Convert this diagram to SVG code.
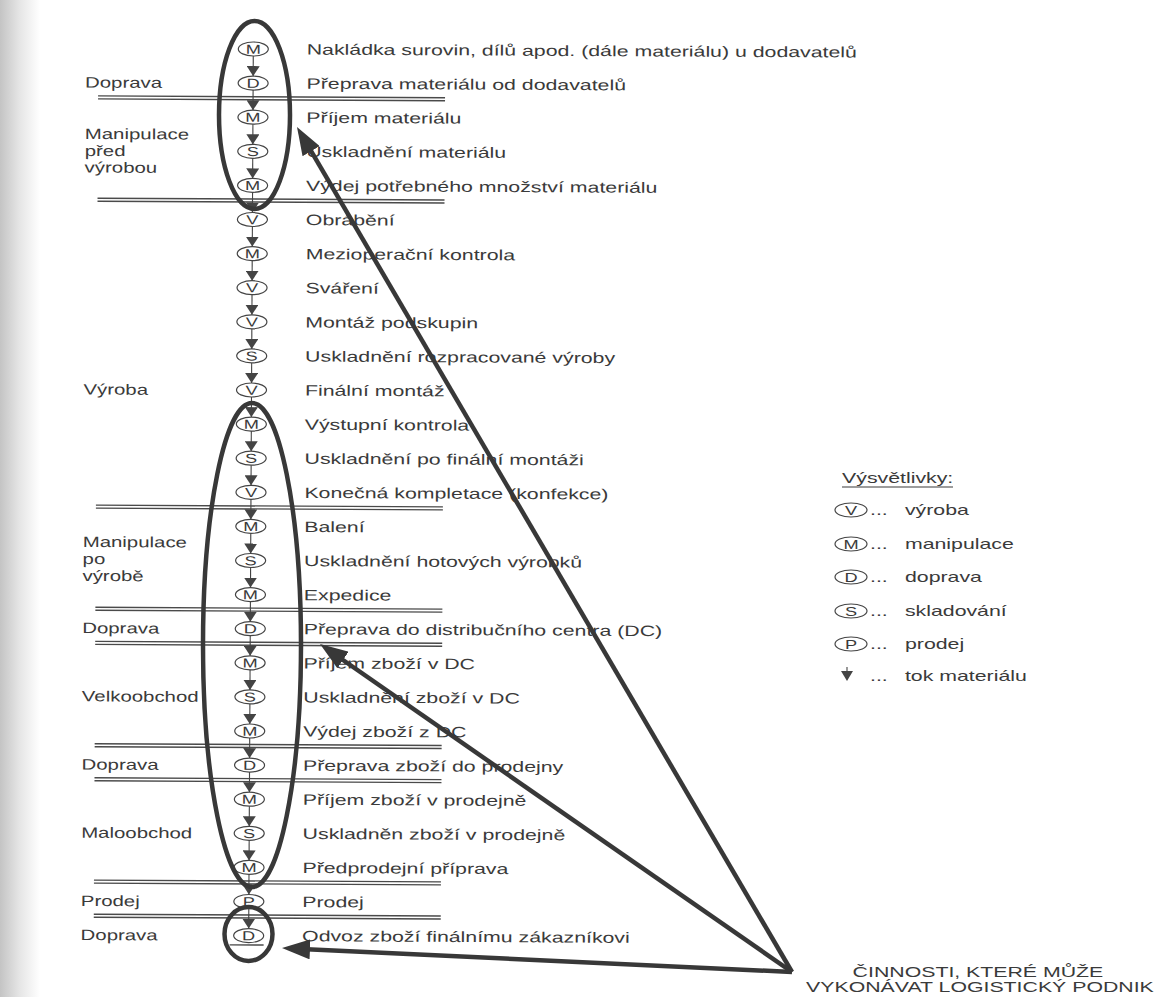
<svg xmlns="http://www.w3.org/2000/svg" width="1162" height="997" viewBox="0 0 1162 997">
  <defs>
    <linearGradient id="edge" x1="0" y1="0" x2="1" y2="0">
      <stop offset="0" stop-color="#c4c4c4"/>
      <stop offset="0.5" stop-color="#e6e6e6"/>
      <stop offset="1" stop-color="#ffffff"/>
    </linearGradient>
    <!-- small flow arrowhead between activity symbols -->
    <marker id="flow" viewBox="0 0 10 13" refX="10" refY="6.5" markerWidth="10" markerHeight="13" markerUnits="userSpaceOnUse" orient="auto">
      <path d="M0,0 L10,6.5 L0,13 z" fill="#444"/>
    </marker>
    <!-- large pointer arrowhead -->
    <marker id="pointer" viewBox="0 0 28 20" refX="14" refY="10" markerWidth="28" markerHeight="20" markerUnits="userSpaceOnUse" orient="auto">
      <path d="M0,0 L28,10 L0,20 z" fill="#383838"/>
    </marker>
  </defs>
  <style>
    /* the printed sheet uses a wide sans: Arial metrics stretched horizontally */
    .t { font-family: "Liberation Sans", Arial, sans-serif; font-size: 15px; fill: #3a3a3a; transform: scale(1.42, 1); }
    .lab { transform: scale(1.36, 1); }
    .sl { font-size: 13px; text-anchor: middle; transform: scale(1.4, 1); }
    .mid { text-anchor: middle; }
    .sym { fill: none; stroke: #444; stroke-width: 1.2; }
    .sep { fill: none; stroke: #4a4a4a; stroke-width: 1.4; }
    .flow { stroke: #444; stroke-width: 1.1; marker-end: url(#flow); }
    .ring { fill: none; stroke: #383838; stroke-width: 4.5; }
    .ptr { fill: none; stroke: #383838; stroke-width: 4.5; marker-end: url(#pointer); }
  </style>

  <rect width="1162" height="997" fill="#ffffff"/>
  <rect width="40" height="997" fill="url(#edge)"/>

  <!-- process chain, slightly rotated like the printed page -->
  <g id="chain" transform="rotate(0.3 251 490)">
    <!-- stage separators (double rules) -->
    <g id="separators">
      <path class="sep" d="M96 96.7H443M96 99.7H443"/>
      <path class="sep" d="M96 199H443M96 202H443"/>
      <path class="sep" d="M96 505.9H443M96 508.9H443"/>
      <path class="sep" d="M96 608.1H443M96 611.1H443"/>
      <path class="sep" d="M96 642.2H443M96 645.2H443"/>
      <path class="sep" d="M96 744.5H443M96 747.5H443"/>
      <path class="sep" d="M96 778.6H443M96 781.6H443"/>
      <path class="sep" d="M96 880.9H443M96 883.9H443"/>
      <path class="sep" d="M96 915H443M96 918H443"/>
    </g>

    <!-- stage names -->
    <g id="stages">
      <text class="t lab" x="61" y="88.4">Doprava</text>
      <text class="t lab" x="61" y="139.8">Manipulace</text>
      <text class="t lab" x="61" y="156.8">před</text>
      <text class="t lab" x="61" y="173.3">výrobou</text>
      <text class="t lab" x="61" y="395.3">Výroba</text>
      <text class="t lab" x="61" y="547.8">Manipulace</text>
      <text class="t lab" x="61" y="564.8">po</text>
      <text class="t lab" x="61" y="581.8">výrobě</text>
      <text class="t lab" x="61" y="634">Doprava</text>
      <text class="t lab" x="61" y="702.2">Velkoobchod</text>
      <text class="t lab" x="61" y="770.4">Doprava</text>
      <text class="t lab" x="61" y="838.6">Maloobchod</text>
      <text class="t lab" x="61" y="906.8">Prodej</text>
      <text class="t lab" x="61" y="940.9">Doprava</text>
    </g>

    <!-- material flow -->
    <g id="connectors">
      <line class="flow" x1="251" y1="56" x2="251" y2="76.1"/>
      <line class="flow" x1="251" y1="90.1" x2="251" y2="110.2"/>
      <line class="flow" x1="251" y1="124.2" x2="251" y2="144.3"/>
      <line class="flow" x1="251" y1="158.3" x2="251" y2="178.4"/>
      <line class="flow" x1="251" y1="192.4" x2="251" y2="212.5"/>
      <line class="flow" x1="251" y1="226.5" x2="251" y2="246.6"/>
      <line class="flow" x1="251" y1="260.6" x2="251" y2="280.7"/>
      <line class="flow" x1="251" y1="294.7" x2="251" y2="314.8"/>
      <line class="flow" x1="251" y1="328.8" x2="251" y2="348.9"/>
      <line class="flow" x1="251" y1="362.9" x2="251" y2="383"/>
      <line class="flow" x1="251" y1="397" x2="251" y2="417.1"/>
      <line class="flow" x1="251" y1="431.1" x2="251" y2="451.2"/>
      <line class="flow" x1="251" y1="465.2" x2="251" y2="485.3"/>
      <line class="flow" x1="251" y1="499.3" x2="251" y2="519.4"/>
      <line class="flow" x1="251" y1="533.4" x2="251" y2="553.5"/>
      <line class="flow" x1="251" y1="567.5" x2="251" y2="587.6"/>
      <line class="flow" x1="251" y1="601.6" x2="251" y2="621.7"/>
      <line class="flow" x1="251" y1="635.7" x2="251" y2="655.8"/>
      <line class="flow" x1="251" y1="669.8" x2="251" y2="689.9"/>
      <line class="flow" x1="251" y1="703.9" x2="251" y2="724"/>
      <line class="flow" x1="251" y1="738" x2="251" y2="758.1"/>
      <line class="flow" x1="251" y1="772.1" x2="251" y2="792.2"/>
      <line class="flow" x1="251" y1="806.2" x2="251" y2="826.3"/>
      <line class="flow" x1="251" y1="840.3" x2="251" y2="860.4"/>
      <line class="flow" x1="251" y1="874.4" x2="251" y2="894.5"/>
      <line class="flow" x1="251" y1="908.5" x2="251" y2="928.6"/>
    </g>

    <!-- activities -->
    <g id="n01"><ellipse class="sym" cx="251" cy="49" rx="15" ry="7"/><text class="t sl" x="179.3" y="53.7">M</text><text class="t" x="214.4" y="54.3">Nakládka surovin, dílů apod. (dále materiálu) u dodavatelů</text></g>
    <g id="n02"><ellipse class="sym" cx="251" cy="83.1" rx="15" ry="7"/><text class="t sl" x="179.3" y="87.8">D</text><text class="t" x="214.4" y="88.4">Přeprava materiálu od dodavatelů</text></g>
    <g id="n03"><ellipse class="sym" cx="251" cy="117.2" rx="15" ry="7"/><text class="t sl" x="179.3" y="121.9">M</text><text class="t" x="214.4" y="122.5">Příjem materiálu</text></g>
    <g id="n04"><ellipse class="sym" cx="251" cy="151.3" rx="15" ry="7"/><text class="t sl" x="179.3" y="156">S</text><text class="t" x="214.4" y="156.6">Uskladnění materiálu</text></g>
    <g id="n05"><ellipse class="sym" cx="251" cy="185.4" rx="15" ry="7"/><text class="t sl" x="179.3" y="190.1">M</text><text class="t" x="214.4" y="190.7">Výdej potřebného množství materiálu</text></g>
    <g id="n06"><ellipse class="sym" cx="251" cy="219.5" rx="15" ry="7"/><text class="t sl" x="179.3" y="224.2">V</text><text class="t" x="214.4" y="224.8">Obrábění</text></g>
    <g id="n07"><ellipse class="sym" cx="251" cy="253.6" rx="15" ry="7"/><text class="t sl" x="179.3" y="258.3">M</text><text class="t" x="214.4" y="258.9">Mezioperační kontrola</text></g>
    <g id="n08"><ellipse class="sym" cx="251" cy="287.7" rx="15" ry="7"/><text class="t sl" x="179.3" y="292.4">V</text><text class="t" x="214.4" y="293">Sváření</text></g>
    <g id="n09"><ellipse class="sym" cx="251" cy="321.8" rx="15" ry="7"/><text class="t sl" x="179.3" y="326.5">V</text><text class="t" x="214.4" y="327.1">Montáž podskupin</text></g>
    <g id="n10"><ellipse class="sym" cx="251" cy="355.9" rx="15" ry="7"/><text class="t sl" x="179.3" y="360.6">S</text><text class="t" x="214.4" y="361.2">Uskladnění rozpracované výroby</text></g>
    <g id="n11"><ellipse class="sym" cx="251" cy="390" rx="15" ry="7"/><text class="t sl" x="179.3" y="394.7">V</text><text class="t" x="214.4" y="395.3">Finální montáž</text></g>
    <g id="n12"><ellipse class="sym" cx="251" cy="424.1" rx="15" ry="7"/><text class="t sl" x="179.3" y="428.8">M</text><text class="t" x="214.4" y="429.4">Výstupní kontrola</text></g>
    <g id="n13"><ellipse class="sym" cx="251" cy="458.2" rx="15" ry="7"/><text class="t sl" x="179.3" y="462.9">S</text><text class="t" x="214.4" y="463.5">Uskladnění po finální montáži</text></g>
    <g id="n14"><ellipse class="sym" cx="251" cy="492.3" rx="15" ry="7"/><text class="t sl" x="179.3" y="497">V</text><text class="t" x="214.4" y="497.6">Konečná kompletace (konfekce)</text></g>
    <g id="n15"><ellipse class="sym" cx="251" cy="526.4" rx="15" ry="7"/><text class="t sl" x="179.3" y="531.1">M</text><text class="t" x="214.4" y="531.7">Balení</text></g>
    <g id="n16"><ellipse class="sym" cx="251" cy="560.5" rx="15" ry="7"/><text class="t sl" x="179.3" y="565.2">S</text><text class="t" x="214.4" y="565.8">Uskladnění hotových výrobků</text></g>
    <g id="n17"><ellipse class="sym" cx="251" cy="594.6" rx="15" ry="7"/><text class="t sl" x="179.3" y="599.3">M</text><text class="t" x="214.4" y="599.9">Expedice</text></g>
    <g id="n18"><ellipse class="sym" cx="251" cy="628.7" rx="15" ry="7"/><text class="t sl" x="179.3" y="633.4">D</text><text class="t" x="214.4" y="634">Přeprava do distribučního centra (DC)</text></g>
    <g id="n19"><ellipse class="sym" cx="251" cy="662.8" rx="15" ry="7"/><text class="t sl" x="179.3" y="667.5">M</text><text class="t" x="214.4" y="668.1">Příjem zboží v DC</text></g>
    <g id="n20"><ellipse class="sym" cx="251" cy="696.9" rx="15" ry="7"/><text class="t sl" x="179.3" y="701.6">S</text><text class="t" x="214.4" y="702.2">Uskladnění zboží v DC</text></g>
    <g id="n21"><ellipse class="sym" cx="251" cy="731" rx="15" ry="7"/><text class="t sl" x="179.3" y="735.7">M</text><text class="t" x="214.4" y="736.3">Výdej zboží z DC</text></g>
    <g id="n22"><ellipse class="sym" cx="251" cy="765.1" rx="15" ry="7"/><text class="t sl" x="179.3" y="769.8">D</text><text class="t" x="214.4" y="770.4">Přeprava zboží do prodejny</text></g>
    <g id="n23"><ellipse class="sym" cx="251" cy="799.2" rx="15" ry="7"/><text class="t sl" x="179.3" y="803.9">M</text><text class="t" x="214.4" y="804.5">Příjem zboží v prodejně</text></g>
    <g id="n24"><ellipse class="sym" cx="251" cy="833.3" rx="15" ry="7"/><text class="t sl" x="179.3" y="838">S</text><text class="t" x="214.4" y="838.6">Uskladněn zboží v prodejně</text></g>
    <g id="n25"><ellipse class="sym" cx="251" cy="867.4" rx="15" ry="7"/><text class="t sl" x="179.3" y="872.1">M</text><text class="t" x="214.4" y="872.7">Předprodejní příprava</text></g>
    <g id="n26"><ellipse class="sym" cx="251" cy="901.5" rx="15" ry="7"/><text class="t sl" x="179.3" y="906.2">P</text><text class="t" x="214.4" y="906.8">Prodej</text></g>
    <g id="n27"><ellipse class="sym" cx="251" cy="935.6" rx="15" ry="7"/><text class="t sl" x="179.3" y="940.3">D</text><text class="t" x="214.4" y="940.9">Odvoz zboží finálnímu zákazníkovi</text><line x1="232" y1="945" x2="266" y2="945" stroke="#4a4a4a" stroke-width="1.4"/></g>
  </g>

  <!-- activities a logistics company can take over -->
  <g id="rings">
    <ellipse class="ring" cx="254.5" cy="115" rx="35.5" ry="94"/>
    <ellipse class="ring" cx="252" cy="645" rx="49" ry="242"/>
    <ellipse class="ring" cx="248.5" cy="934" rx="24" ry="27"/>
  </g>

  <g id="pointers">
    <line class="ptr" x1="792" y1="972" x2="304.1" y2="139.1"/>
    <line class="ptr" x1="792" y1="972" x2="331.5" y2="652"/>
    <line class="ptr" x1="792" y1="972" x2="296" y2="948.7"/>
  </g>

  <g id="caption">
    <text class="t mid" x="688.7" y="977">ČINNOSTI, KTERÉ MŮŽE</text>
    <text class="t mid" x="690.1" y="992">VYKONÁVAT LOGISTICKÝ PODNIK</text>
  </g>

  <!-- key -->
  <g id="legend">
    <text class="t" x="593" y="483">Výsvětlivky:</text>
    <line x1="842" y1="487" x2="953" y2="487" stroke="#3a3a3a" stroke-width="1.1"/>
    <g id="key-v"><ellipse class="sym" cx="851" cy="510" rx="16" ry="7"/><text class="t sl" x="607.9" y="514.7">V</text><text class="t" x="612.7" y="515.3">...<tspan x="637.3">výroba</tspan></text></g>
    <g id="key-m"><ellipse class="sym" cx="851" cy="544" rx="16" ry="7"/><text class="t sl" x="607.9" y="548.7">M</text><text class="t" x="612.7" y="549.3">...<tspan x="637.3">manipulace</tspan></text></g>
    <g id="key-d"><ellipse class="sym" cx="851" cy="577" rx="16" ry="7"/><text class="t sl" x="607.9" y="581.7">D</text><text class="t" x="612.7" y="582.3">...<tspan x="637.3">doprava</tspan></text></g>
    <g id="key-s"><ellipse class="sym" cx="851" cy="611" rx="16" ry="7"/><text class="t sl" x="607.9" y="615.7">S</text><text class="t" x="612.7" y="616.3">...<tspan x="637.3">skladování</tspan></text></g>
    <g id="key-p"><ellipse class="sym" cx="851" cy="644" rx="16" ry="7"/><text class="t sl" x="607.9" y="648.7">P</text><text class="t" x="612.7" y="649.3">...<tspan x="637.3">prodej</tspan></text></g>
    <g id="key-flow"><line x1="847" y1="667" x2="847" y2="671" stroke="#444" stroke-width="1.1"/><path d="M841,671 L853,671 L847,681 z" fill="#444"/><text class="t" x="612.7" y="681">...<tspan x="637.3">tok materiálu</tspan></text></g>
  </g>
</svg>
